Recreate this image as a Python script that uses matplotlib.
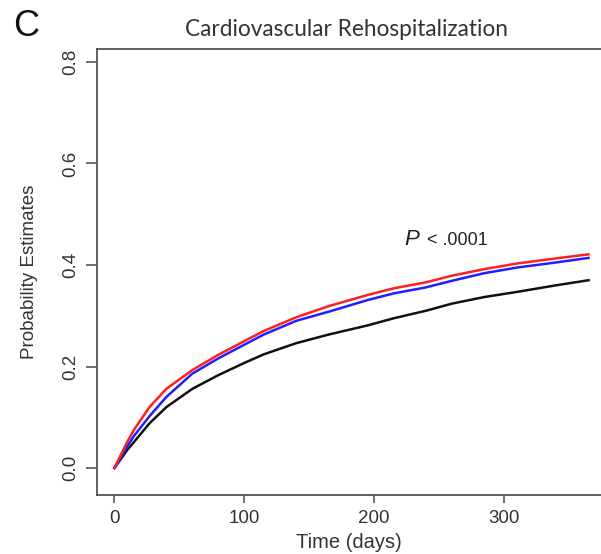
import matplotlib
matplotlib.use("Agg")
import matplotlib.pyplot as plt

# Cumulative probability of cardiovascular rehospitalization over one year
days = [0, 5, 10, 15, 27, 40, 60, 80, 100, 115, 140, 165, 195, 215, 240, 260, 285, 310, 340, 365]
red_group = [0, 0.026, 0.052, 0.075, 0.120, 0.156, 0.193, 0.223, 0.250, 0.270, 0.297, 0.319,
             0.341, 0.354, 0.366, 0.379, 0.392, 0.403, 0.413, 0.421]
blue_group = [0, 0.021, 0.043, 0.063, 0.102, 0.140, 0.186, 0.216, 0.243, 0.263, 0.290, 0.308,
              0.331, 0.344, 0.356, 0.369, 0.384, 0.395, 0.405, 0.414]
black_group = [0, 0.018, 0.036, 0.051, 0.088, 0.120, 0.156, 0.183, 0.207, 0.224, 0.246, 0.263,
               0.281, 0.295, 0.310, 0.324, 0.337, 0.347, 0.360, 0.370]

x_ticks = [0, 100, 200, 300]
y_ticks = [0.0, 0.2, 0.4, 0.6, 0.8]
y_tick_labels = ["0.0", "0.2", "0.4", "0.6", "0.8"]

W, H = 601, 554
fig = plt.figure(figsize=(W / 100, H / 100), dpi=100)

ax_left, ax_right, ax_top, ax_bottom = 97, 601, 49, 494.5
ax = fig.add_axes([ax_left / W, 1 - ax_bottom / H,
                   (ax_right - ax_left) / W, (ax_bottom - ax_top) / H])

ax.plot(days, black_group, color="#111111", lw=1.8, solid_joinstyle="round")
ax.plot(days, blue_group, color="#1f1fff", lw=1.8, solid_joinstyle="round")
ax.plot(days, red_group, color="#ff1f1f", lw=1.8, solid_joinstyle="round")

ax.set_xlim(-13.4, 374.6)
ax.set_ylim(-0.0522, 0.8256)

spine_col = "#555555"
for side in ["left", "bottom", "top"]:
    ax.spines[side].set_color(spine_col)
    ax.spines[side].set_linewidth(1.3)
ax.spines["right"].set_visible(False)

tick_font = dict(family="Liberation Sans", size=13.5, color="#333333")
ax.set_xticks(x_ticks)
ax.set_xticklabels([str(t) for t in x_ticks], fontdict=tick_font)
ax.set_yticks(y_ticks)
ax.set_yticklabels(y_tick_labels, fontdict=tick_font, rotation=90, va="center")
ax.tick_params(axis="x", length=6, width=1.2, color=spine_col, pad=5)
ax.tick_params(axis="y", length=8, width=1.2, color=spine_col, pad=5)

ax.set_xlabel("Time (days)", family="Liberation Sans", fontsize=14.5, color="#333333")
ax.set_ylabel("Probability Estimates", family="Liberation Sans", fontsize=13.5, color="#333333")
ax.yaxis.set_label_coords((30 - ax_left) / (ax_right - ax_left), 0.5)
ax.xaxis.set_label_coords(0.5, -(542 - ax_bottom) / (ax_bottom - ax_top))
ax.xaxis.label.set_va("center")
ax.yaxis.label.set_va("center")

fig.text(346 / W, 1 - 29 / H, "Cardiovascular Rehospitalization", ha="center", va="center",
         family="Lato", fontsize=16.3, color="#333333")
fig.text(26 / W, 1 - 26 / H, "C", ha="center", va="center",
         family="Liberation Sans", fontsize=26, color="#111111")

ax.text(223.5, 0.439, "P", family="Liberation Sans", style="italic", fontsize=16,
        color="#222222", ha="left", va="baseline")
ax.text(240.5, 0.439, "< .0001", family="Liberation Sans", fontsize=13,
        color="#222222", ha="left", va="baseline")

fig.savefig("out.png", dpi=100)
